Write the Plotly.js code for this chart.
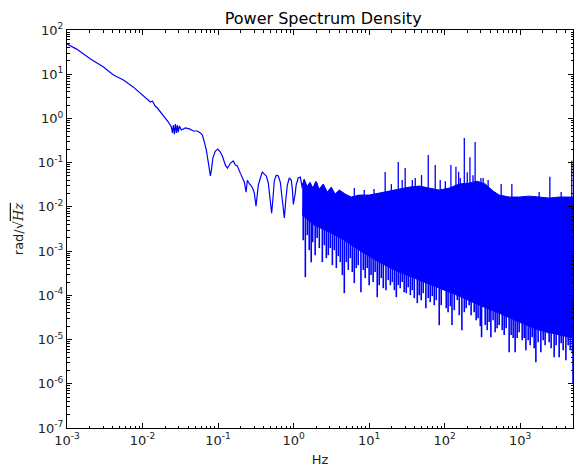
<!DOCTYPE html>
<html><head><meta charset="utf-8">
<script src="https://cdn.plot.ly/plotly-3.0.1.min.js"></script>
<style>body{margin:0;background:#fff}</style>
</head><body><div id="chart" style="width:574px;height:470px"></div>
<script>
// Low-frequency part of the spectrum (single line)
const lowHz = [1.0e-3,1.34e-3,2.05e-3,3.04e-3,4.12e-3,5.59e-3,7.58e-3,1.03e-2,1.27e-2,1.35e-2,1.47e-2,1.57e-2,1.73e-2,1.83e-2,2.01e-2,2.20e-2,2.41e-2,2.49e-2,2.56e-2,2.64e-2,2.72e-2,2.81e-2,2.89e-2,2.98e-2,3.07e-2,3.27e-2,3.69e-2,4.17e-2,4.71e-2,5.32e-2,5.83e-2,6.20e-2,6.59e-2,7.0e-2,7.45e-2,7.91e-2,8.16e-2,8.53e-2,9.2e-2,9.94e-2,0.107,0.114,0.125,0.133,0.146,0.159,0.169,0.180,0.197,0.210,0.223,0.235,0.244,0.26,0.276,0.293,0.302,0.318,0.331,0.341,0.363,0.385,0.41,0.435,0.463,0.492,0.512,0.531,0.556,0.59,0.628,0.667,0.709,0.754,0.788,0.826,0.877,0.933,0.965,0.991,1.05,1.08,1.15,1.23,1.30];
const lowPsd = [48,37,22,14.6,9.6,7.4,5.1,3.2,2.35,2.48,1.91,1.72,1.40,1.26,0.97,0.83,0.64,0.47,0.71,0.44,0.75,0.47,0.71,0.49,0.67,0.55,0.61,0.58,0.52,0.52,0.47,0.42,0.29,0.19,0.098,0.050,0.068,0.127,0.183,0.203,0.174,0.141,0.088,0.075,0.098,0.109,0.088,0.084,0.058,0.045,0.036,0.0216,0.040,0.033,0.030,0.024,0.0205,0.0104,0.0185,0.031,0.045,0.061,0.055,0.050,0.0345,0.0158,0.0072,0.0143,0.040,0.052,0.050,0.036,0.0143,0.0056,0.0143,0.031,0.045,0.040,0.024,0.0114,0.020,0.031,0.045,0.047,0.0266];

// Dense high-frequency band: upper envelope and solid lower edge
const bandHz = [1.30,1.38,1.51,1.65,1.80,1.97,2.19,2.47,2.79,3.15,3.55,4.03,4.83,5.79,7.40,10.0,13.6,18.5,25.0,34.0,46.0,62.5,84.7,115,156,211,269,344,438,527,714,969,1314,1782,2416,3280,5000];
const bandTop = [0.031,0.0426,0.029,0.036,0.0266,0.038,0.0253,0.033,0.0216,0.028,0.0195,0.024,0.0195,0.0167,0.0185,0.0185,0.0205,0.0228,0.0253,0.028,0.0296,0.0266,0.024,0.0266,0.033,0.0345,0.038,0.033,0.0228,0.0185,0.0167,0.0167,0.0175,0.0167,0.0158,0.0167,0.0167];
const floorHz = [1.30,1.88,2.97,4.69,7.40,13.6,25.0,46.0,84.7,156,287,527,969,1782,3280,5000];
const floorPsd = [6.5e-3,3.87e-3,2.69e-3,1.77e-3,1.05e-3,5.6e-4,3.35e-4,2.21e-4,1.46e-4,9.6e-5,6.0e-5,3.95e-5,2.48e-5,1.63e-5,1.26e-5,1.08e-5];

// Downward spikes below the band
const dipHz = [1.34,1.43,1.52,1.61,1.71,1.79,1.93,2.05,2.19,2.40,2.55,2.71,2.88,3.06,3.26,3.46,3.68,3.91,4.15,4.42,4.69,4.99,5.30,5.63,5.98,6.36,6.76,7.18,7.79,8.36,8.88,9.44,10.0,10.6,11.3,12.0,12.8,13.6,14.5,15.4,16.7,17.9,19.1,20.3,21.6,22.9,24.3,25.8,27.4,29.1,31.0,32.9,35.1,37.3,39.6,43.4,46.0,48.9,52.0,56.4,60.6,64.4,68.5,72.8,77.4,84.7,90.0,98.7,105,111,119,125,134,147,156,169,182,193,211,224,246,261,277,296,308,344,366,388,409,438,466,495,527,578,614,652,714,759,807,857,911,969,1062,1129,1190,1275,1355,1440,1531,1612,1728,1877,2014,2138,2299,2416,2568,2815,2991,3280,3487,3706,4025,4313,4584,4908,5000];
const dipPsd = [1.77e-3,2.58e-4,2.30e-3,1.05e-3,5.63e-4,1.59e-3,8.1e-4,1.97e-3,1.17e-3,5.63e-4,1.36e-3,6.94e-4,8.1e-4,1.17e-3,4.82e-4,1.05e-3,4.13e-4,7.7e-4,5.63e-4,2.87e-4,1.12e-4,5.63e-4,3.72e-4,6.94e-4,3.35e-4,1.89e-4,4.13e-4,4.82e-4,1.18e-4,3.72e-4,2.45e-4,4.13e-4,1.70e-4,2.87e-4,1.99e-4,3.35e-4,9.1e-5,1.70e-4,2.45e-4,1.45e-4,1.31e-4,2.21e-4,1.70e-4,1.99e-4,1.31e-4,9.1e-5,1.70e-4,1.45e-4,1.99e-4,1.18e-4,1.12e-4,1.53e-4,1.01e-4,1.31e-4,8.65e-5,6.66e-5,1.01e-4,7.79e-5,1.12e-4,5.13e-5,8.65e-5,7.02e-5,9.6e-5,6.0e-5,7.79e-5,2.12e-5,6.0e-5,1.31e-4,5.13e-5,4.16e-5,5.69e-5,2.12e-5,4.62e-5,7.79e-5,3.56e-5,1.63e-5,4.16e-5,5.13e-5,6.0e-5,3.56e-5,4.16e-5,2.75e-5,3.05e-5,2.01e-5,1.13e-5,2.12e-5,1.63e-5,2.48e-5,1.13e-5,2.75e-5,1.47e-5,1.81e-5,2.12e-5,1.63e-5,1.26e-5,1.81e-5,5.18e-6,1.26e-5,1.08e-5,5.18e-6,1.08e-5,1.47e-5,9.69e-6,1.08e-5,5.75e-6,9.69e-6,7.47e-6,1.13e-5,6.38e-6,3.08e-6,8.73e-6,5.18e-6,9.69e-6,7.47e-6,1.39e-5,8.73e-6,6.38e-6,3.99e-6,7.47e-6,3.99e-6,8.28e-6,5.75e-6,3.42e-6,7.47e-6,5.75e-6,4.92e-6,1.03e-6];

// Upward spikes above the band
const peakHz = [2.05,2.63,3.80,6.36,8.6,11.6,16.3,19.7,24.3,27.4,30.0,37.3,40.8,49.4,60.6,75.0,87.3,102,121,141,153,161,182,199,216,237,253,302,323,376,560,775,1782,2469,3487,4815];
const peakPsd = [0.0345,0.024,0.0216,0.0266,0.024,0.0253,0.0613,0.0328,0.104,0.0404,0.0755,0.0404,0.0448,0.0524,0.149,0.088,0.0404,0.038,0.088,0.0806,0.0622,0.0448,0.361,0.061,0.132,0.052,0.293,0.0448,0.0448,0.0404,0.0328,0.0328,0.0216,0.0479,0.0216,0.111];

// Axis ticks
const xTickVals = [1e-3,1e-2,1e-1,1e0,1e1,1e2,1e3];
const xTickText = ['10<sup>-3</sup>','10<sup>-2</sup>','10<sup>-1</sup>','10<sup>0</sup>','10<sup>1</sup>','10<sup>2</sup>','10<sup>3</sup>'];
const yTickVals = [1e-7,1e-6,1e-5,1e-4,1e-3,1e-2,1e-1,1e0,1e1,1e2];
const yTickText = ['10<sup>-7</sup>','10<sup>-6</sup>','10<sup>-5</sup>','10<sup>-4</sup>','10<sup>-3</sup>','10<sup>-2</sup>','10<sup>-1</sup>','10<sup>0</sup>','10<sup>1</sup>','10<sup>2</sup>'];

function minorTicks(lo, hi) {
  const out = [];
  for (let e = lo; e <= hi; e++) for (let m = 2; m <= 9; m++) out.push(m * Math.pow(10, e));
  return out;
}

const BLUE = '#0000ff';
const ANCHOR = 1e-2; // level inside the dense band where spikes start

const band = {
  x: bandHz.concat(floorHz.slice().reverse()),
  y: bandTop.concat(floorPsd.slice().reverse()),
  mode: 'lines', fill: 'toself', fillcolor: BLUE,
  line: {color: BLUE, width: 1}, hoverinfo: 'skip', showlegend: false
};
const dx = [], dy = [];
dipHz.forEach((f, i) => { dx.push(f, f, null); dy.push(ANCHOR, dipPsd[i], null); });
const px = [], py = [];
peakHz.forEach((f, i) => { px.push(f, f, null); py.push(ANCHOR, peakPsd[i], null); });
const dips = {x: dx, y: dy, mode: 'lines', line: {color: BLUE, width: 1.6}, showlegend: false};
const peaks = {x: px, y: py, mode: 'lines', line: {color: BLUE, width: 1.3}, showlegend: false};
const low = {x: lowHz, y: lowPsd, mode: 'lines', line: {color: BLUE, width: 1.2}, showlegend: false};

const axisCommon = {
  type: 'log', showgrid: false, zeroline: false, showline: true, linecolor: '#000', linewidth: 1,
  mirror: 'allticks', ticks: 'inside', ticklen: 5, tickcolor: '#000', tickwidth: 1,
  tickfont: {family: 'DejaVu Sans', size: 13, color: '#222'}, tickmode: 'array'
};

const layout = {
  width: 574, height: 470,
  margin: {l: 67, r: 1, t: 30, b: 42},
  paper_bgcolor: '#fff', plot_bgcolor: '#fff',
  title: {text: 'Power Spectrum Density', font: {family: 'DejaVu Sans', size: 16, color: '#000'}, x: 0.563, xanchor: 'center', y: 0.961, yanchor: 'middle'},
  xaxis: Object.assign({}, axisCommon, {
    range: [-3, Math.log10(5000)], tickvals: xTickVals, ticktext: xTickText,
    minor: {tickmode: 'array', tickvals: minorTicks(-3, 3), ticks: 'inside', ticklen: 2.5, tickcolor: '#000', showgrid: false},
    title: {text: 'Hz', font: {family: 'DejaVu Sans', size: 13, color: '#222'}, standoff: 8}
  }),
  yaxis: Object.assign({}, axisCommon, {
    range: [-7, 2], tickvals: yTickVals, ticktext: yTickText,
    minor: {tickmode: 'array', tickvals: minorTicks(-7, 1), ticks: 'inside', ticklen: 2.5, tickcolor: '#000', showgrid: false},
    title: {text: "rad/√<span style=\"font-family:'DejaVu Serif';font-style:italic;text-decoration:overline\">Hz</span>", font: {family: 'DejaVu Sans', size: 13, color: '#222'}, standoff: 11}
  }),
  showlegend: false
};

Plotly.newPlot('chart', [band, dips, peaks, low], layout, {displayModeBar: false, staticPlot: true});
</script></body></html>
